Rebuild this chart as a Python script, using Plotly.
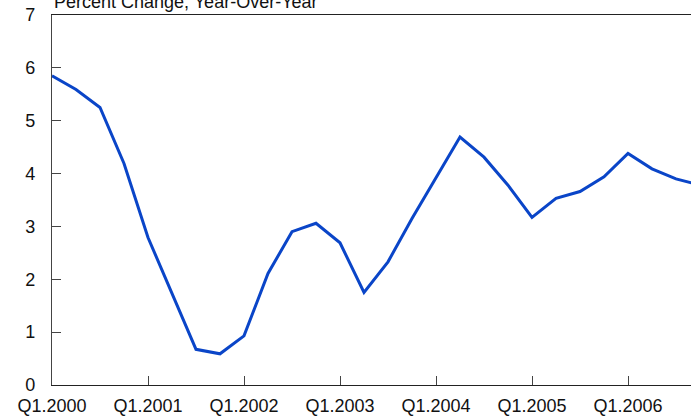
import plotly.graph_objects as go

quarters = [f"Q{q}.{y}" for y in range(2000, 2007) for q in range(1, 5)]
values = [5.85, 5.59, 5.25, 4.19, 2.79, 1.73, 0.675, 0.59, 0.93, 2.11, 2.90, 3.06,
          2.69, 1.75, 2.33, 3.15, 3.91, 4.69, 4.31, 3.78, 3.17, 3.53, 3.66, 3.94,
          4.38, 4.09, 3.90, 3.78]
tick_labels = ["Q1.2000", "Q1.2001", "Q1.2002", "Q1.2003", "Q1.2004", "Q1.2005", "Q1.2006"]
y_ticks = [0, 1, 2, 3, 4, 5, 6, 7]
title_text = "Percent Change, Year-Over-Year"

x_idx = list(range(len(quarters)))
tick_pos = [quarters.index(t) for t in tick_labels]

fig = go.Figure()
fig.add_trace(go.Scatter(x=x_idx, y=values, mode="lines",
                         line=dict(color="#0a45c8", width=3),
                         hoverinfo="skip", showlegend=False, cliponaxis=True))

font = dict(family="Liberation Sans, Arial, sans-serif", size=18, color="#111")

fig.update_layout(
    width=691, height=418,
    margin=dict(l=52, r=0, t=15, b=33),
    paper_bgcolor="white", plot_bgcolor="white",
    font=font,
    xaxis=dict(range=[0, 26.625], tickmode="array", tickvals=tick_pos, ticktext=tick_labels,
               showgrid=False, zeroline=False, showline=True, mirror=True, automargin=False,
               linecolor="#222", linewidth=1.3, ticks="inside", ticklen=9,
               tickcolor="#444", tickwidth=1, ticklabelstandoff=4),
    yaxis=dict(range=[0, 7], tickmode="array", tickvals=y_ticks, automargin=False,
               showgrid=False, zeroline=False, showline=True, mirror=False,
               linecolor="#444", linewidth=1.3, ticks="inside", ticklen=9,
               tickcolor="#444", tickwidth=1, ticklabelstandoff=12),
    annotations=[dict(text=title_text, xref="paper", yref="paper", x=0, y=1,
                      xanchor="left", yanchor="bottom", yshift=1, showarrow=False,
                      font=font)],
)

fig.write_html("out.html", config={"displayModeBar": False},
               post_script="document.body.style.margin='0px';document.body.style.overflow='hidden';")
